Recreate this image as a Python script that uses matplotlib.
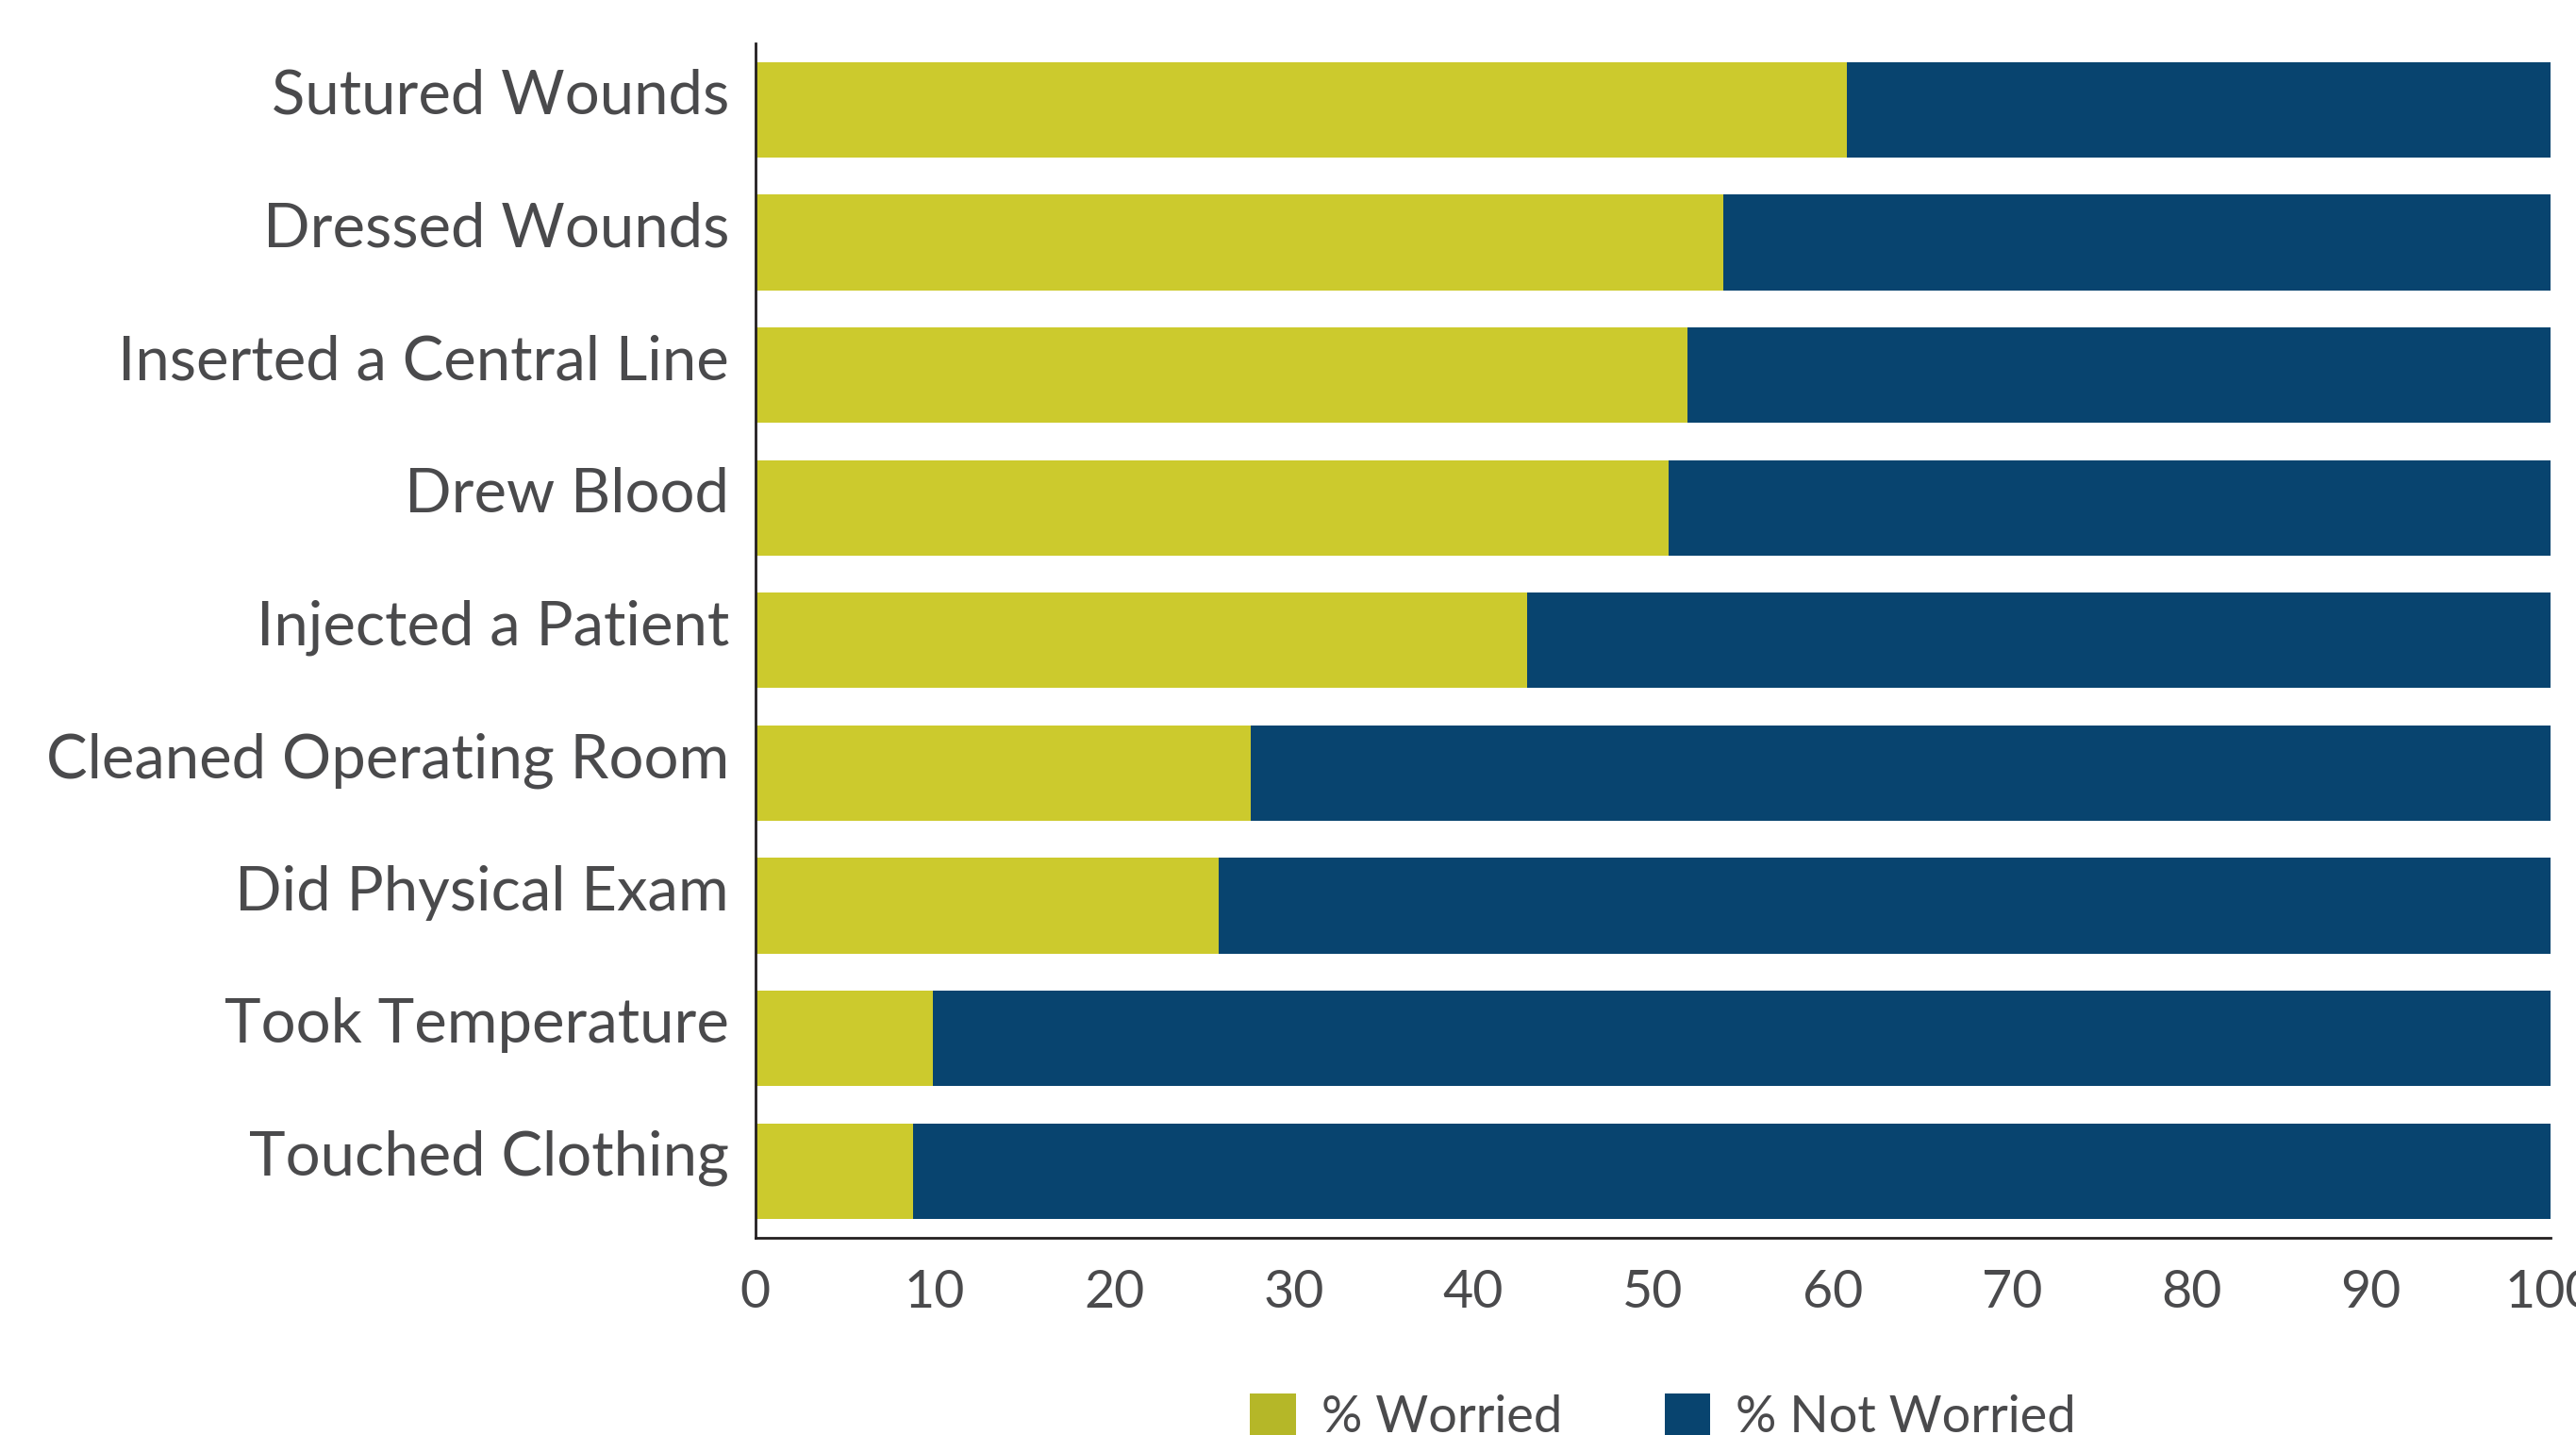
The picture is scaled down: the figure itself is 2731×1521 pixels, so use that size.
import matplotlib
matplotlib.use("Agg")
import matplotlib.pyplot as plt
from matplotlib.patches import Patch
import matplotlib.transforms as mtransforms
import numpy as np

categories = ["Sutured Wounds", "Dressed Wounds", "Inserted a Central Line", "Drew Blood",
              "Injected a Patient", "Cleaned Operating Room", "Did Physical Exam",
              "Took Temperature", "Touched Clothing"]
worried = [60.8, 53.9, 51.9, 50.9, 43.0, 27.6, 25.8, 9.9, 8.8]
not_worried = [100 - w for w in worried]
series_labels = ["% Worried", "% Not Worried"]
xticks = [0, 10, 20, 30, 40, 50, 60, 70, 80, 90, 100]

C_W = "#CCCA2D"
C_W_LEG = "#B5B728"
C_N = "#08446F"
TXT = "#4A4A4C"

plt.rcParams['font.family'] = ['Lato', 'DejaVu Sans']

fig = plt.figure(figsize=(13.655, 7.605), dpi=200)
ax = fig.add_axes([0.2932, 0.1376, 0.9901 - 0.2932, 0.9698 - 0.1376])

y = np.arange(len(categories))
ax.barh(y, worried, height=0.72, color=C_W, linewidth=0)
ax.barh(y, not_worried, left=worried, height=0.72, color=C_N, linewidth=0)

ax.set_ylim(len(categories) - 0.5, -0.5)
ax.set_xlim(0, 100)
ax.set_yticks(y)
ax.set_yticklabels(categories, fontsize=23.5, color=TXT)
ax.set_xticks(xticks)
ax.set_xticklabels([str(t) for t in xticks], fontsize=20, color=TXT)
ax.tick_params(axis='y', length=0, pad=10)
ax.tick_params(axis='x', length=0, pad=12)
offset = mtransforms.ScaledTranslation(0, 7 / 72, fig.dpi_scale_trans)
for lab in ax.get_yticklabels():
    lab.set_transform(lab.get_transform() + offset)
for s in ["top", "right"]:
    ax.spines[s].set_visible(False)
for s in ["left", "bottom"]:
    ax.spines[s].set_color("#231F20")
    ax.spines[s].set_linewidth(1.0)

handles = [Patch(facecolor=C_W_LEG, edgecolor='none'), Patch(facecolor=C_N, edgecolor='none')]
leg = fig.legend(handles, series_labels, loc='upper center', bbox_to_anchor=(0.6456, 0.029),
                 ncol=2, frameon=False, fontsize=19.5, borderpad=0, handlelength=0.9,
                 handleheight=0.9, handletextpad=0.5, columnspacing=2.0, borderaxespad=0)
for t in leg.get_texts():
    t.set_color(TXT)

fig.savefig("out.png", dpi=200)
